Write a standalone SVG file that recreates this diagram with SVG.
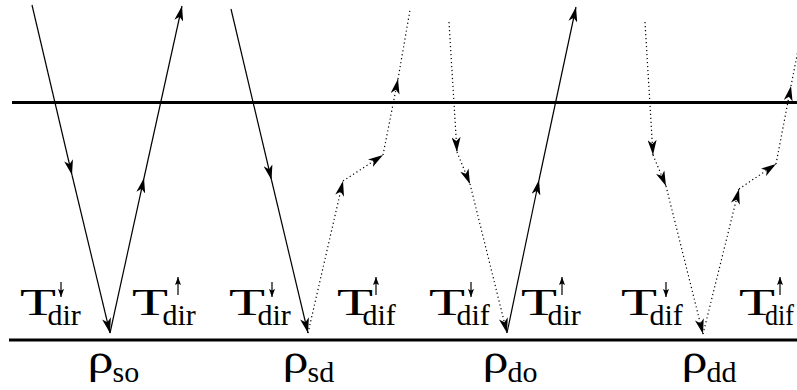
<svg xmlns="http://www.w3.org/2000/svg" width="797" height="390" viewBox="0 0 797 390">
<style>
.bar{stroke:#000;stroke-width:3;fill:none}
.ray{stroke:#000;stroke-width:1.2;fill:none}
.dot{stroke:#000;stroke-width:1.2;fill:none;stroke-dasharray:1.2 2.8}
.sa{stroke:#000;stroke-width:1.2;fill:none;marker-end:url(#sm)}
text{font-family:'Liberation Serif','DejaVu Serif',serif;fill:#000}
.T{font-size:38px}
.sub{font-size:30px}
.rho{font-size:40px}
</style>
<defs>
<marker id="ah" viewBox="0 0 15 9" refX="15" refY="4.5" markerWidth="15" markerHeight="9" markerUnits="userSpaceOnUse" orient="auto">
<path d="M15,4.5 L0,0 L4,4.5 L0,9 Z" fill="#000" stroke="none"/>
</marker>
<marker id="sm" viewBox="0 0 8 6" refX="8" refY="3" markerWidth="8" markerHeight="6" markerUnits="userSpaceOnUse" orient="auto">
<path d="M8,3 L0,0 L1.5,3 L0,6 Z" fill="#000" stroke="none"/>
</marker>
</defs>
<rect width="797" height="390" fill="#fff"/>
<g id="surfaces">
<line class="bar" x1="12" y1="102.5" x2="797" y2="102.5"/>
<line class="bar" x1="9" y1="340" x2="797" y2="340"/>
</g>
<g id="connectors">
<path class="ray" d="M32,5 L72,175" marker-end="url(#ah)"/>
<path class="ray" d="M72,175 L110,333" marker-end="url(#ah)"/>
<path class="ray" d="M110,333 L144,178" marker-end="url(#ah)"/>
<path class="ray" d="M144,178 L182,6" marker-end="url(#ah)"/>
<path class="ray" d="M231,9 L271.5,180" marker-end="url(#ah)"/>
<path class="ray" d="M271.5,180 L308,333" marker-end="url(#ah)"/>
<path class="dot" d="M308,333 L343,181" marker-end="url(#ah)"/>
<path class="dot" d="M343,181 L383,155" marker-end="url(#ah)"/>
<path class="dot" d="M383,155 L398,79" marker-end="url(#ah)"/>
<path class="dot" d="M398,79 L410,10"/>
<path class="dot" d="M449,22 L457,152" marker-end="url(#ah)"/>
<path class="dot" d="M457,152 L470,184" marker-end="url(#ah)"/>
<path class="dot" d="M470,184 L507,333" marker-end="url(#ah)"/>
<path class="ray" d="M507,333 L539,180" marker-end="url(#ah)"/>
<path class="ray" d="M539,180 L576,7" marker-end="url(#ah)"/>
<path class="dot" d="M645,22 L653,155" marker-end="url(#ah)"/>
<path class="dot" d="M653,155 L666,186" marker-end="url(#ah)"/>
<path class="dot" d="M666,186 L703,334" marker-end="url(#ah)"/>
<path class="dot" d="M703,334 L739,189" marker-end="url(#ah)"/>
<path class="dot" d="M739,189 L776,164" marker-end="url(#ah)"/>
<path class="dot" d="M776,164 L791,86" marker-end="url(#ah)"/>
<path class="dot" d="M791,86 L800,40"/>
</g>
<g id="rho-so">
<text class="T" x="20" y="315" textLength="36" lengthAdjust="spacingAndGlyphs">T</text>
<text class="sub" x="47.5" y="325">dir</text>
<line class="sa" x1="61" y1="282" x2="61" y2="297"/>
<text class="T" x="132" y="315" textLength="36" lengthAdjust="spacingAndGlyphs">T</text>
<text class="sub" x="162.5" y="325">dir</text>
<line class="sa" x1="178" y1="295" x2="178" y2="277"/>
<text class="rho" x="87.5" y="373" textLength="26" lengthAdjust="spacingAndGlyphs">ρ</text>
<text class="sub" x="112.5" y="382">so</text>
</g>
<g id="rho-sd">
<text class="T" x="229" y="315" textLength="36" lengthAdjust="spacingAndGlyphs">T</text>
<text class="sub" x="257.5" y="325">dir</text>
<line class="sa" x1="272" y1="282" x2="272" y2="297"/>
<text class="T" x="337" y="315" textLength="36" lengthAdjust="spacingAndGlyphs">T</text>
<text class="sub" x="362.5" y="325">dif</text>
<line class="sa" x1="376" y1="295" x2="376" y2="277"/>
<text class="rho" x="282.5" y="373" textLength="26" lengthAdjust="spacingAndGlyphs">ρ</text>
<text class="sub" x="307.5" y="382">sd</text>
</g>
<g id="rho-do">
<text class="T" x="429" y="315" textLength="36" lengthAdjust="spacingAndGlyphs">T</text>
<text class="sub" x="456.5" y="325">dif</text>
<line class="sa" x1="471" y1="282" x2="471" y2="297"/>
<text class="T" x="521" y="315" textLength="36" lengthAdjust="spacingAndGlyphs">T</text>
<text class="sub" x="547.5" y="325">dir</text>
<line class="sa" x1="562" y1="295" x2="562" y2="277"/>
<text class="rho" x="482.5" y="373" textLength="26" lengthAdjust="spacingAndGlyphs">ρ</text>
<text class="sub" x="507.5" y="382">do</text>
</g>
<g id="rho-dd">
<text class="T" x="621" y="315" textLength="36" lengthAdjust="spacingAndGlyphs">T</text>
<text class="sub" x="649.5" y="325">dif</text>
<line class="sa" x1="666" y1="282" x2="666" y2="297"/>
<text class="T" x="739" y="315" textLength="36" lengthAdjust="spacingAndGlyphs">T</text>
<text class="sub" x="765" y="325" textLength="29" lengthAdjust="spacingAndGlyphs">dif</text>
<line class="sa" x1="780" y1="295" x2="780" y2="277"/>
<text class="rho" x="681.5" y="373" textLength="26" lengthAdjust="spacingAndGlyphs">ρ</text>
<text class="sub" x="706.5" y="382">dd</text>
</g>
</svg>
